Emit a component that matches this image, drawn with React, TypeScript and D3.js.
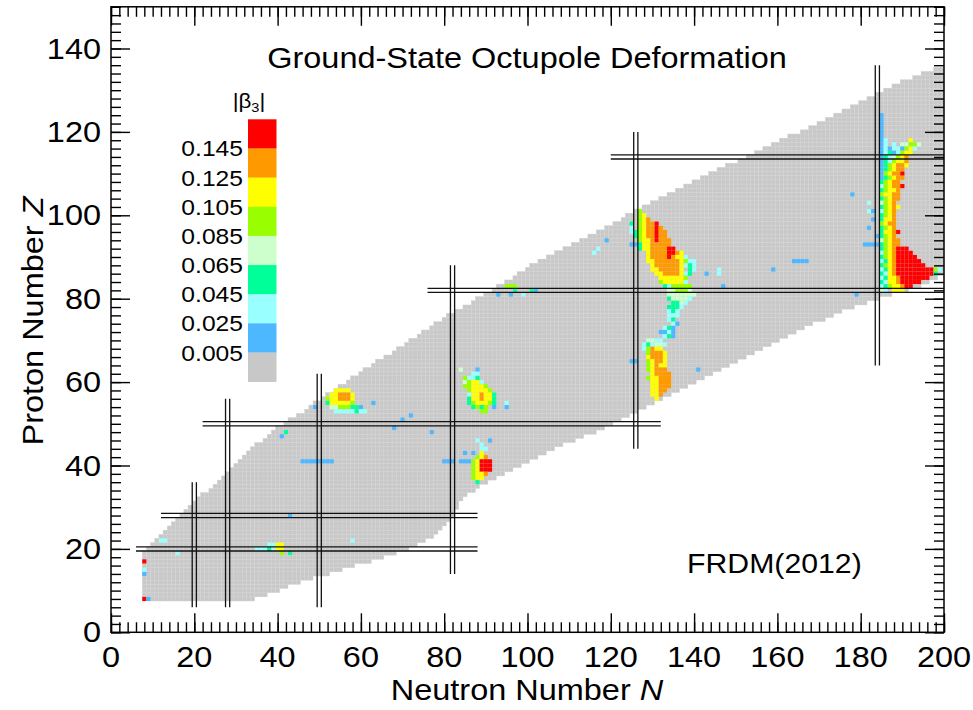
import React, { useRef, useEffect } from 'react';
import * as d3 from 'd3';

const FONT = '"Liberation Sans", Arial, Helvetica, sans-serif';
const STRETCH = 1.12; // the reference lettering is a bit wider than Arial

// axis ticks
const xMajorTicks = [0, 20, 40, 60, 80, 100, 120, 140, 160, 180, 200];
const yMajorTicks = [0, 20, 40, 60, 80, 100, 120, 140];

// extent of the nuclear chart, one entry per proton number starting at Z = 8
const zFirst = 8;
const nMinByZ = [
  8, 8, 8, 8, 8, 8, 8, 8, 8, 8, 8, 8,
  9, 10, 11, 12, 13, 14, 15, 16, 17, 18,
  19, 20, 21, 22, 24, 25, 26, 27, 28, 29,
  30, 31, 32, 33, 34, 35, 37, 38, 39, 40,
  42, 43, 45, 47, 48, 49, 51, 52, 54, 55,
  57, 58, 60, 61, 63, 64, 66, 68, 69, 71,
  72, 74, 75, 77, 78, 80, 81, 83, 85, 87,
  88, 90, 92, 93, 95, 97, 98, 100, 101, 103,
  105, 107, 109, 111, 113, 115, 117, 119, 121, 123,
  124, 126, 128, 130, 132, 134, 136, 138, 140, 142,
  144, 146, 148, 151, 153, 155, 157, 159, 161, 163,
  166, 168, 170, 172, 174, 176, 178, 180, 182, 184,
  186, 188, 190, 193, 195, 198,
];
const nMaxByZ = [
  34, 37, 40, 42, 45, 48, 52, 55, 58, 62, 65, 68,
  71, 73, 75, 77, 78, 79, 80, 81, 82, 82,
  83, 83, 84, 85, 87, 88, 90, 92, 94, 96,
  98, 100, 102, 104, 106, 108, 111, 113, 116, 118,
  120, 122, 124, 126, 128, 130, 132, 134, 136, 138,
  140, 142, 144, 146, 148, 150, 152, 154, 156, 158,
  160, 162, 164, 166, 168, 171, 173, 175, 178, 181,
  184, 187, 191, 194, 196, 198, 200, 200, 200, 200,
  200, 200, 200, 200, 200, 200, 200, 200, 200, 200,
  200, 200, 200, 200, 200, 200, 200, 200, 200, 200,
  200, 200, 200, 200, 200, 200, 200, 200, 200, 200,
  200, 200, 200, 200, 200, 200, 200, 200, 200, 200,
  200, 200, 200, 200, 200, 200,
];

// legend classes of |beta3|
const legendBreaks = [0.005, 0.025, 0.045, 0.065, 0.085, 0.105, 0.125, 0.145];
const legendColors = ['#c8c8c8', '#4db8ff', '#99ffff', '#00ff99', '#ccffcc', '#99ff00', '#ffff00', '#ff9900', '#ff0000'];
// a representative |beta3| for each class, class index = digit used below
const classBeta = [0, 0.015, 0.035, 0.055, 0.075, 0.095, 0.115, 0.135, 0.16];

// deformed nuclei: [Z, first N, class digit per N ('.' = below 0.005)]
const deformedRows: [number, number, string][] = [
  [8, 8, '81'], [14, 8, '1'], [15, 8, '2'], [17, 8, '8'], [19, 16, '2'], [22, 12, '22'],
  [19, 41, '5.3'], [20, 35, '2223266'], [21, 38, '2266'], [22, 58, '2'], [28, 43, '1'],
  [41, 46, '11111111'], [47, 41, '1'], [48, 42, '3'], [48, 77, '1'], [49, 68, '1'],
  [51, 70, '1'], [52, 72, '1'], [54, 49, '1'], [55, 63, '1'],
  [58, 54, '6666'], [57, 53, '667776'], [56, 52, '5667776'], [55, 52, '3666665'],
  [54, 53, '44555331'], [53, 54, '22222322'],
  [63, 84, '4...1'], [62, 87, '22'], [61, 85, '5223'], [60, 85, '45662'], [59, 85, '556665'],
  [58, 86, '566665'], [57, 86, '2667663'], [56, 86, '3667663'], [55, 86, '3566653..2'],
  [54, 87, '3535.1..1'], [53, 89, '55'],
  [46, 88, '2..1'], [45, 89, '2'], [44, 89, '22'], [43, 85, '1.1.6'], [42, 88, '567'],
  [41, 80, '111.11156888'], [40, 87, '56888'], [39, 87, '56888'], [38, 87, '5667'],
  [37, 87, '566'], [36, 88, '3'],
  [83, 95, '555'], [82, 97, '3...31'], [81, 93, '1..1..2'], [91, 116, '2'], [92, 117, '2'], [94, 119, '1'],
  [101, 127, '5'], [100, 127, '56'], [99, 127, '567'], [98, 125, '3.56778'], [97, 125, '2.567787'],
  [96, 125, '235677877'], [95, 126, '35677877'], [94, 127, '56678777'], [93, 125, '1136677777'],
  [92, 127, '366777788'], [91, 129, '677778876'], [90, 129, '6777787662'], [89, 129, '667777776522'],
  [88, 130, '67777776232'], [87, 130, '66777776.32.....2'], [86, 131, '667777623...1..2'],
  [85, 132, '6666665'], [84, 132, '5666662'], [83, 133, '3255555.......1'], [82, 134, '445554'],
  [81, 134, '4444444'], [80, 134, '344442'], [79, 135, '3342'], [78, 134, '3332'], [77, 134, '232'],
  [76, 134, '222'], [75, 134, '23'], [74, 135, '21'], [73, 133, '231'], [72, 132, '1121'],
  [71, 133, '231'], [70, 129, '4422'], [69, 128, '232442'], [68, 128, '25766'], [67, 129, '57776'],
  [66, 129, '67776'], [65, 125, '11..56776'], [64, 129, '56766'], [63, 129, '56777.......1'],
  [62, 130, '67777'], [61, 129, '566777'], [60, 130, '66777'], [59, 130, '66777'], [58, 130, '6677'],
  [57, 130, '667'], [56, 131, '6'],
  [87, 159, '1'], [89, 164, '1111'], [81, 179, '1'],
  [124, 185, '1'], [123, 185, '1'], [122, 185, '1'], [121, 185, '1'], [120, 185, '1'], [119, 185, '1'],
  [118, 185, '12.....6'], [117, 185, '12.2.44554'], [116, 185, '121221562'], [115, 185, '12312566'],
  [114, 185, '1324567'], [113, 185, '1325667'], [112, 185, '1356776'], [111, 185, '135677'],
  [110, 185, '156778'], [109, 185, '135677'], [108, 185, '35677'], [107, 185, '256778'],
  [106, 185, '35667'], [105, 178, '1......56677'], [104, 185, '35677'], [103, 182, '2..4567'],
  [102, 185, '35676'], [101, 182, '21.2567'], [100, 185, '3567'], [99, 183, '1.3667'],
  [98, 185, '5677'], [97, 182, '1..3567'], [96, 185, '36678'], [95, 184, '13567'],
  [94, 185, '45677'], [93, 181, '111135677'], [92, 185, '3567888'], [91, 185, '25678888'],
  [90, 185, '356788888'], [89, 185, '2367888888'], [88, 185, '35678888888'],
  [87, 185, '236788888888852'], [86, 185, '32678888888883'], [85, 185, '236678888888'],
  [84, 185, '3266788888'], [83, 185, '23566788'], [82, 185, '42.666'],
];

// magic-number double lines: [magic number, from, to]
const magicZLines = [[20, 6, 88], [28, 12, 88], [50, 22, 132], [82, 76, 200], [114, 120, 200]];
const magicNLines = [[20, 6, 36], [28, 6, 56], [50, 6, 62], [82, 14, 88], [126, 44, 120], [184, 64, 136]];

const App = () => {
  const svgRef = useRef<SVGSVGElement>(null);

  useEffect(() => {
    const svg = d3.select(svgRef.current);
    svg.selectAll('*').remove();

    const x = d3.scaleLinear().domain([0, 200]).range([111, 944]);
    const y = d3.scaleLinear().domain([0, 150]).range([632.3, 6.8]);
    const color = d3.scaleThreshold<number, string>().domain(legendBreaks).range(legendColors);

    const text = (px: number, py: number, size: number, anchor: string, rotate = 0) =>
      svg.append('g')
        .attr('transform', `translate(${px},${py}) rotate(${rotate}) scale(${STRETCH},1)`)
        .append('text')
        .attr('text-anchor', anchor)
        .style('font-family', FONT)
        .style('font-size', `${size}px`)
        .attr('fill', '#000');

    svg.append('defs').append('clipPath').attr('id', 'plot-clip')
      .append('rect')
      .attr('x', x(0)).attr('y', y(150))
      .attr('width', x(200) - x(0)).attr('height', y(0) - y(150));

    const plot = svg.append('g').attr('clip-path', 'url(#plot-clip)');

    // cells of the whole chart
    const allCells: { n: number; z: number }[] = [];
    nMinByZ.forEach((nMin, i) => {
      for (let n = nMin; n <= nMaxByZ[i]; n++) allCells.push({ n, z: zFirst + i });
    });

    const deformed: { n: number; z: number; beta: number }[] = [];
    deformedRows.forEach(([z, n0, codes]) => {
      codes.split('').forEach((c, k) => {
        if (c !== '.') deformed.push({ n: n0 + k, z, beta: classBeta[+c] });
      });
    });

    const cw = x(1) - x(0);
    const ch = y(0) - y(1);

    plot.append('g').selectAll('rect')
      .data(allCells)
      .enter()
      .append('rect')
      .attr('x', d => x(d.n - 0.5))
      .attr('y', d => y(d.z + 0.5))
      .attr('width', cw)
      .attr('height', ch)
      .attr('fill', legendColors[0])
      .attr('stroke', '#d4d4d4')
      .attr('stroke-width', 0.4);

    plot.append('g').selectAll('rect')
      .data(deformed)
      .enter()
      .append('rect')
      .attr('x', d => x(d.n - 0.5))
      .attr('y', d => y(d.z + 0.5))
      .attr('width', cw)
      .attr('height', ch)
      .attr('fill', d => color(d.beta));

    // magic numbers
    const magic = plot.append('g')
      .attr('stroke', '#111')
      .attr('stroke-width', 1.3);
    magicZLines.forEach(([z, n0, n1]) => {
      [-0.5, 0.5].forEach(off => {
        magic.append('line')
          .attr('x1', x(n0)).attr('x2', x(n1))
          .attr('y1', y(z + off)).attr('y2', y(z + off));
      });
    });
    magicNLines.forEach(([n, z0, z1]) => {
      [-0.5, 0.5].forEach(off => {
        magic.append('line')
          .attr('x1', x(n + off)).attr('x2', x(n + off))
          .attr('y1', y(z0)).attr('y2', y(z1));
      });
    });

    // frame and inward ticks on all four sides
    const addAxis = (axis: any, tx: number, ty: number) => {
      const g = svg.append('g').attr('transform', `translate(${tx},${ty})`).call(axis);
      g.select('.domain').remove();
      g.selectAll('line').attr('stroke', '#000').attr('stroke-width', 1.4);
    };
    const blank = () => '';
    [
      [d3.axisBottom(x), 0, y(0)],
      [d3.axisTop(x), 0, y(150)],
    ].forEach(([ax, tx, ty]: any) => {
      addAxis(ax.tickValues(xMajorTicks).tickSizeInner(-19).tickSizeOuter(0).tickFormat(blank), tx, ty);
    });
    [
      [d3.axisBottom(x), 0, y(0)],
      [d3.axisTop(x), 0, y(150)],
    ].forEach(([ax, tx, ty]: any) => {
      addAxis(ax.tickValues(x.ticks(100)).tickSizeInner(-10).tickSizeOuter(0).tickFormat(blank), tx, ty);
    });
    [
      [d3.axisLeft(y), x(0), 0],
      [d3.axisRight(y), x(200), 0],
    ].forEach(([ax, tx, ty]: any) => {
      addAxis(ax.tickValues(yMajorTicks).tickSizeInner(-19).tickSizeOuter(0).tickFormat(blank), tx, ty);
    });
    [
      [d3.axisLeft(y), x(0), 0],
      [d3.axisRight(y), x(200), 0],
    ].forEach(([ax, tx, ty]: any) => {
      addAxis(ax.tickValues(y.ticks(75)).tickSizeInner(-10).tickSizeOuter(0).tickFormat(blank), tx, ty);
    });

    svg.append('rect')
      .attr('x', x(0)).attr('y', y(150))
      .attr('width', x(200) - x(0)).attr('height', y(0) - y(150))
      .attr('fill', 'none')
      .attr('stroke', '#000')
      .attr('stroke-width', 1.5);

    // tick labels
    xMajorTicks.forEach(v => text(x(v), 667, 29, 'middle').text(v));
    yMajorTicks.forEach(v => text(101, y(v) + 10, 29, 'end').text(v));

    // axis titles
    const xt = text(527, 700, 29, 'middle');
    xt.append('tspan').text('Neutron Number ');
    xt.append('tspan').style('font-style', 'italic').text('N');
    const yt = text(43, 321, 29, 'middle', -90);
    yt.append('tspan').text('Proton Number ');
    yt.append('tspan').style('font-style', 'italic').text('Z');

    text(527, 68, 29, 'middle').text('Ground-State Octupole Deformation');
    text(687, 573, 27, 'start').text('FRDM(2012)');

    // colour legend
    const legendTop = 119.3;
    const legendStep = 29.15;
    const legendColorsTopDown = legendColors.slice().reverse();
    svg.append('g').selectAll('rect')
      .data(legendColorsTopDown)
      .enter()
      .append('rect')
      .attr('x', 248)
      .attr('y', (d, i) => legendTop + i * legendStep)
      .attr('width', 28.5)
      .attr('height', legendStep + 0.3)
      .attr('fill', d => d);

    legendBreaks.slice().reverse().forEach((b, i) => {
      text(243, legendTop + (i + 1) * legendStep + 8, 22, 'end').text(b.toFixed(3));
    });

    const lt = text(249, 108, 20, 'middle');
    lt.append('tspan').text('|β');
    lt.append('tspan').attr('dy', 4).style('font-size', '13px').text('3');
    lt.append('tspan').attr('dy', -4).text('|');
  }, []);

  return (
    <svg
      ref={svgRef}
      width={973}
      height={710}
      style={{ position: 'absolute', left: 0, top: 0, background: '#fff' }}
    />
  );
};

export default App;
